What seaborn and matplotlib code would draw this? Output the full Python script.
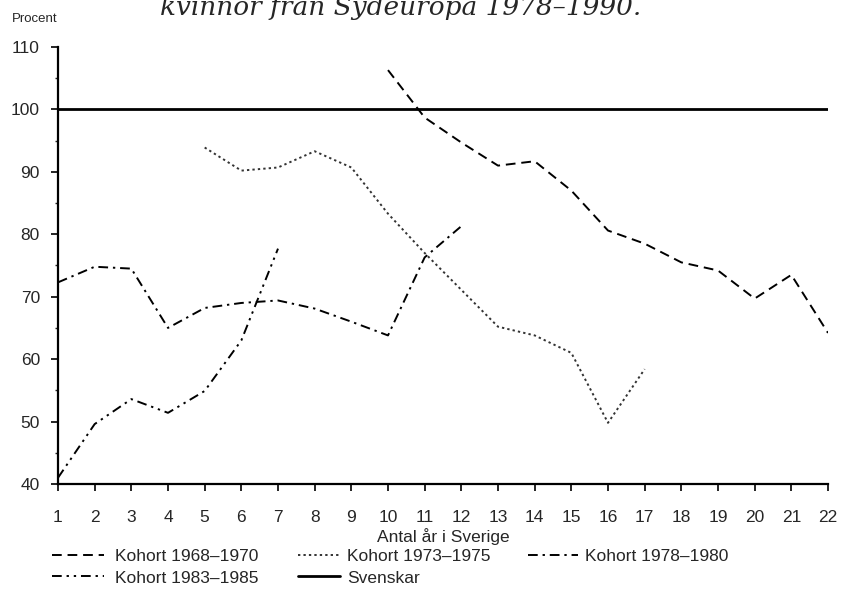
import numpy as np
import pandas as pd
import matplotlib
matplotlib.use("Agg")
import matplotlib.pyplot as plt
import seaborn as sns
from matplotlib.ticker import MultipleLocator

# ----------------------------------------------------------------------
# Data
# ----------------------------------------------------------------------
years_6870 = list(range(10, 23))
vals_6870 = [106.3, 98.7, 94.7, 91.0, 91.7, 87.0, 80.6, 78.5, 75.5, 74.2, 69.7, 73.5, 64.2]

years_7375 = list(range(5, 18))
vals_7375 = [93.9, 90.2, 90.7, 93.3, 90.7, 83.3, 77.0, 71.1, 65.2, 63.8, 61.0, 49.8, 58.4]

years_7880 = list(range(1, 13))
vals_7880 = [72.3, 74.8, 74.5, 65.0, 68.2, 69.0, 69.4, 68.1, 66.0, 63.8, 76.3, 81.3]

years_8385 = list(range(1, 8))
vals_8385 = [41.0, 49.6, 53.6, 51.4, 54.9, 63.0, 77.7]

years_sv = list(range(1, 23))
vals_sv = [100] * 22

labels = ["Kohort 1968\u20131970", "Kohort 1973\u20131975", "Kohort 1978\u20131980",
          "Kohort 1983\u20131985", "Svenskar"]
x_ticks = list(range(1, 23))
y_ticks = list(range(40, 111, 10))

df = pd.concat([
    pd.DataFrame({"ar": years_6870, "procent": vals_6870, "serie": labels[0]}),
    pd.DataFrame({"ar": years_7375, "procent": vals_7375, "serie": labels[1]}),
    pd.DataFrame({"ar": years_7880, "procent": vals_7880, "serie": labels[2]}),
    pd.DataFrame({"ar": years_8385, "procent": vals_8385, "serie": labels[3]}),
    pd.DataFrame({"ar": years_sv, "procent": vals_sv, "serie": labels[4]}),
], ignore_index=True)

# ----------------------------------------------------------------------
# Plot
# ----------------------------------------------------------------------
sns.set_style("ticks")
plt.rcParams["font.family"] = ["Liberation Sans", "DejaVu Sans"]

fig = plt.figure(figsize=(8.41, 5.93), dpi=100)
ax = fig.add_axes([58 / 841, 1 - 484 / 593, (828 - 58) / 841, (484 - 47) / 593])

dash_map = {
    labels[0]: (5, 3),
    labels[1]: (1.2, 1.6),
    labels[2]: (5, 2.5, 1.2, 2.5),
    labels[3]: (5, 2.5, 1.2, 2.5, 1.2, 2.5),
    labels[4]: "",
}
sns.lineplot(data=df, x="ar", y="procent", style="serie", style_order=labels,
             dashes=dash_map, color="black", linewidth=1.4, ax=ax, legend=False)
ax.lines[-1].set_linewidth(2.0)
ax.lines[1].set_color("#333333")

ax.set_xlim(1, 22)
ax.set_ylim(40, 110)
ax.set_xticks(x_ticks)
ax.set_yticks(y_ticks)
ax.yaxis.set_minor_locator(MultipleLocator(5))
ax.tick_params(axis="both", which="major", labelsize=12.5, color="black",
               direction="out", length=5, width=1.2)
ax.tick_params(axis="x", pad=14)
ax.tick_params(axis="y", pad=8)
ax.tick_params(axis="y", which="minor", length=2.5, width=1.0)
ax.set_xlabel("")
ax.set_ylabel("")
sns.despine(ax=ax)
for s in ["left", "bottom"]:
    ax.spines[s].set_linewidth(1.6)
    ax.spines[s].set_color("black")

fig.text(12 / 841, 1 - 19 / 593, "Procent", fontsize=9.5, va="center", ha="left")
fig.text(443 / 841, 1 - 537 / 593, "Antal \u00e5r i Sverige", fontsize=12.5,
         ha="center", va="center")
fig.text(401 / 841, 1 - 15 / 593, "kvinnor fr\u00e5n Sydeuropa 1978\u20131990.",
         fontsize=19, ha="center", va="baseline", style="italic",
         family=["DejaVu Serif"])

# legend: one small legend per column so each sits where the reference has it
columns = [
    ([0, 3], 52, 3.0, 0.65),
    ([1, 4], 298, 2.4, 0.45),
    ([2], 528, 2.9, 0.4),
]
for idx, left, hlen, hpad in columns:
    fig.legend([ax.lines[i] for i in idx], [labels[i] for i in idx], ncol=1,
               frameon=False, loc="upper left",
               bbox_to_anchor=(left / 841, 1 - 549 / 593),
               fontsize=12.5, handlelength=hlen, handletextpad=hpad,
               labelspacing=0.36, borderaxespad=0, borderpad=0)

fig.savefig("out.png", dpi=100)
